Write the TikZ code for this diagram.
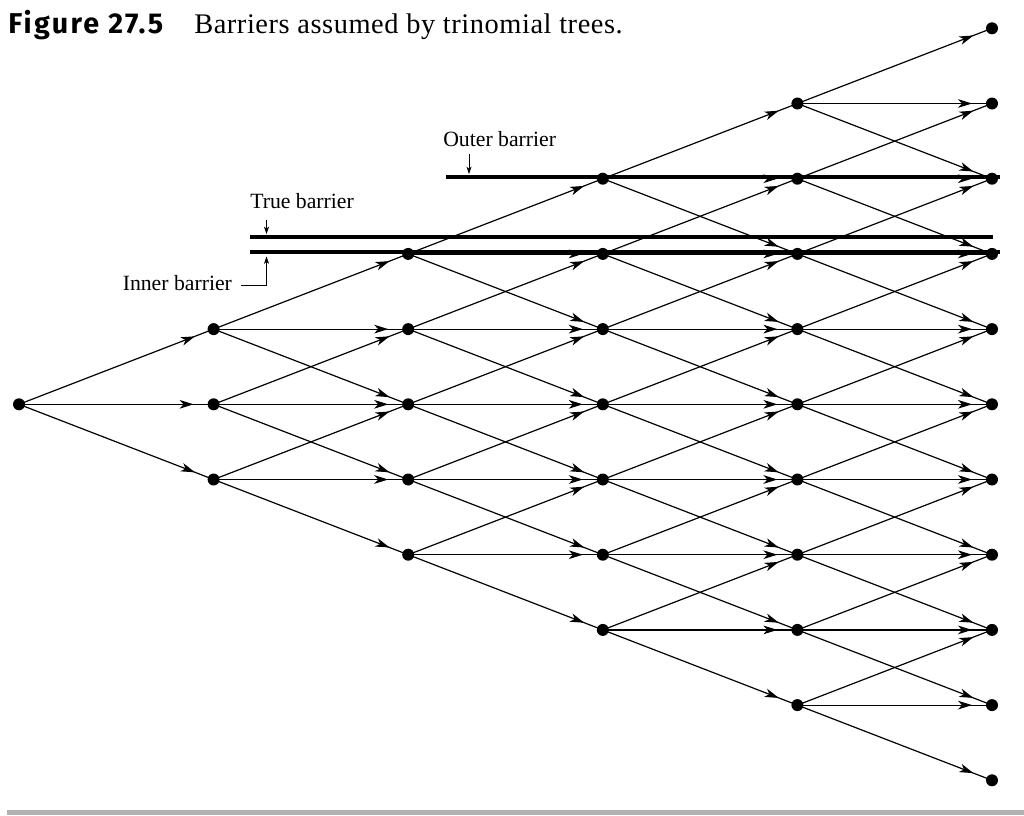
\documentclass[tikz,border=0pt]{standalone}
\usepackage{fontspec}
\setmainfont{Liberation Serif}
\newfontfamily\figfont[LetterSpace=8]{Fira Sans}
\newfontfamily\capfont[LetterSpace=2]{Liberation Serif}
\usetikzlibrary{arrows.meta,decorations.markings,backgrounds}
\begin{document}
\begin{tikzpicture}[x=0.75pt,y=-0.75pt,
  dot/.style={circle,fill=black,inner sep=0pt,minimum size=9pt},
  edge/.style={line width=0.9pt,postaction={decorate},
    decoration={markings,mark=at position -15pt with {\arrow{Stealth[length=10.5pt,width=6.5pt,inset=3pt]}}}},
  barrier/.style={line width=3pt},
  lbl/.style={font=\fontsize{16.3}{18}\selectfont,anchor=base west,inner sep=0pt},
  pointer/.style={line width=0.6pt,-{Stealth[length=5.5pt,width=3.8pt,inset=1.5pt]}}]
\useasboundingbox (0,0) rectangle (1024,815);
% title
\node[anchor=base west,inner sep=0pt,font=\figfont\bfseries\fontsize{21.5}{24}\selectfont] (fig) at (8,33) {Figure 27.5};
\node[anchor=base west,inner sep=0pt,font=\capfont\fontsize{21.3}{24}\selectfont] (cap) at (194,33) {Barriers assumed by trinomial trees.};
% nodes
\foreach \i in {0,...,5} {
  \foreach \j in {-5,...,5} {
    \pgfmathtruncatemacro\aj{abs(\j)}
    \ifnum\aj>\i\relax\else
      \node[dot] (n-\i-\j) at ({19+194.6*\i},{404.3-75.2*\j}) {};
    \fi
  }
}
\begin{scope}[on background layer]
  % barriers
  \draw[barrier] (446,177) -- (1000,177);
  \draw[barrier] (250,236.7) -- (993,236.7);
  \draw[barrier] (250,252.3) -- (1000,252.3);
  % edges
  \foreach \i in {0,...,4} {
    \foreach \j in {-4,...,4} {
      \pgfmathtruncatemacro\aj{abs(\j)}
      \pgfmathtruncatemacro\ni{\i+1}
      \ifnum\aj>\i\relax\else
        \foreach \d in {-1,0,1} {
          \pgfmathtruncatemacro\nj{\j+\d}
          \draw[edge] (n-\i-\j.center) -- (n-\ni-\nj.center);
        }
      \fi
    }
  }
\end{scope}
% labels
\node[lbl] (outer) at (443,146.7) {Outer barrier};
\node[lbl] (true) at (250,208) {True barrier};
\node[lbl] (inner) at (122.5,290.5) {Inner barrier};
\coordinate (ob-tip) at (469,174);
\coordinate (tb-tip) at (266.5,234);
\coordinate (ib-tip) at (266.5,256.5);
\coordinate (ib-corner) at (266.5,285);
\draw[pointer] (469,154) -- (ob-tip);
\draw[pointer] (266.5,220) -- (tb-tip);
\draw[line width=0.6pt] (241,285) -- (ib-corner);
\draw[pointer] (ib-corner) -- (ib-tip);
% bottom rule
\fill[black!30] (7,809.5) rectangle (1024,815);
\end{tikzpicture}
\end{document}
